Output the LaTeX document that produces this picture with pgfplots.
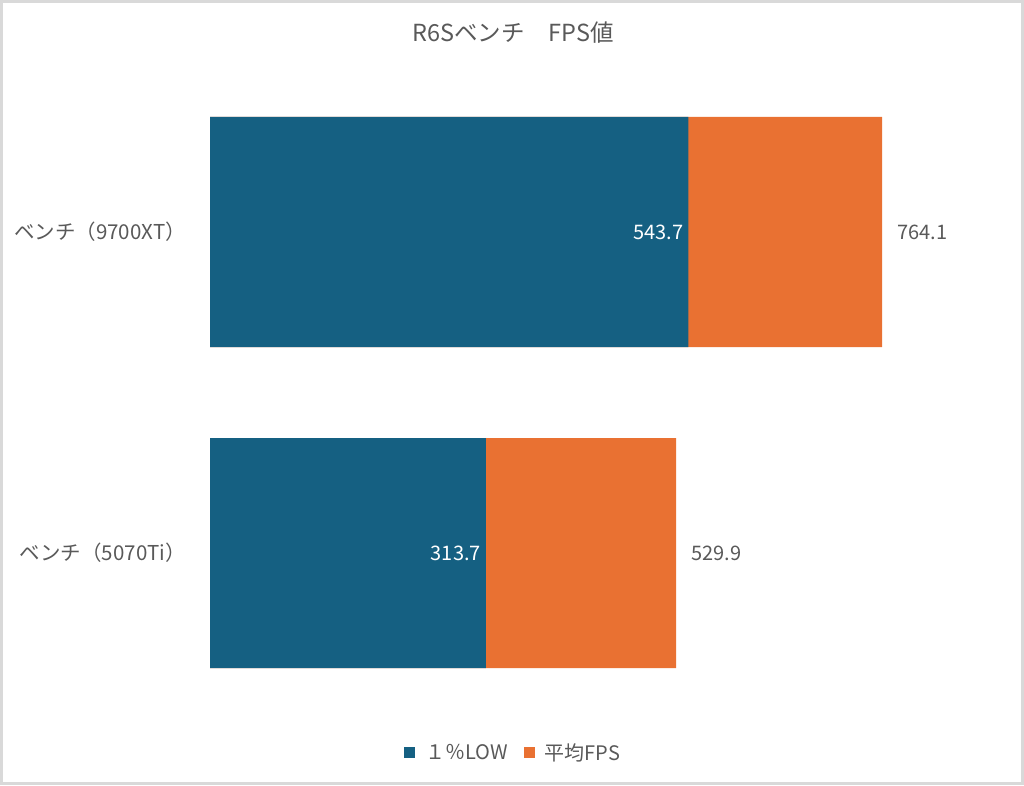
\documentclass[border=0pt]{standalone}
\usepackage{fontspec}
\setmainfont{Noto Sans CJK JP}
\usepackage{pgfplots}
\pgfplotsset{compat=1.18}
\definecolor{cblue}{HTML}{156082}
\definecolor{corange}{HTML}{E97132}
\definecolor{tgray}{HTML}{595959}
\definecolor{fgray}{HTML}{D9D9D9}
\begin{document}
\begin{tikzpicture}[x=1pt,y=1pt]
\path[use as bounding box] (0,0) rectangle (1024,785);
\draw[fgray, line width=3pt] (1.5,1.5) rectangle (1022.5,783.5);
\node[text=tgray, font=\fontsize{23.5}{28}\selectfont] at (513,752) {R6Sベンチ　FPS値};
\begin{axis}[
  at={(210pt,71.5pt)}, anchor=south west,
  scale only axis, width=790pt, height=642pt,
  xbar, bar width=230pt, bar shift=0pt,
  xmin=0, xmax=898, ymin=-0.5, ymax=1.5,
  hide x axis,
  y axis line style={draw=none},
  ytick={0,1},
  yticklabels={ベンチ（5070Ti）,ベンチ（9700XT）},
  yticklabel style={font=\fontsize{20.5}{24}\selectfont, text=tgray, inner sep=0pt, xshift=-24pt},
  major tick length=0pt,
  point meta=explicit symbolic,
  legend columns=2,
  legend style={at={(0.384,-0.0615)}, anchor=center, draw=none, fill=none,
    font=\fontsize{20}{24}\selectfont, text=tgray,
    /tikz/every even column/.append style={column sep=14pt}},
  legend image code/.code={\path[draw=none,fill=none] (0pt,-5.5pt) rectangle (19pt,5.5pt);\fill[#1] (0pt,-5.5pt) rectangle (11pt,5.5pt);},
]
\addplot[fill=corange, draw=none, forget plot,
  nodes near coords,
  every node near coord/.append style={anchor=west, inner sep=0pt, xshift=15pt, text=tgray, font=\fontsize{20}{24}\selectfont}]
  coordinates {(764.1,1) [764.1] (529.9,0) [529.9]};
\addplot[fill=cblue, draw=none,
  nodes near coords,
  every node near coord/.append style={anchor=east, inner sep=0pt, xshift=-5pt, text=white, font=\fontsize{20}{24}\selectfont}]
  coordinates {(543.7,1) [543.7] (313.7,0) [313.7]};
\addlegendentry{１％LOW}
\addlegendimage{fill=corange, draw=none}
\addlegendentry{平均FPS}
\end{axis}
\end{tikzpicture}
\end{document}
